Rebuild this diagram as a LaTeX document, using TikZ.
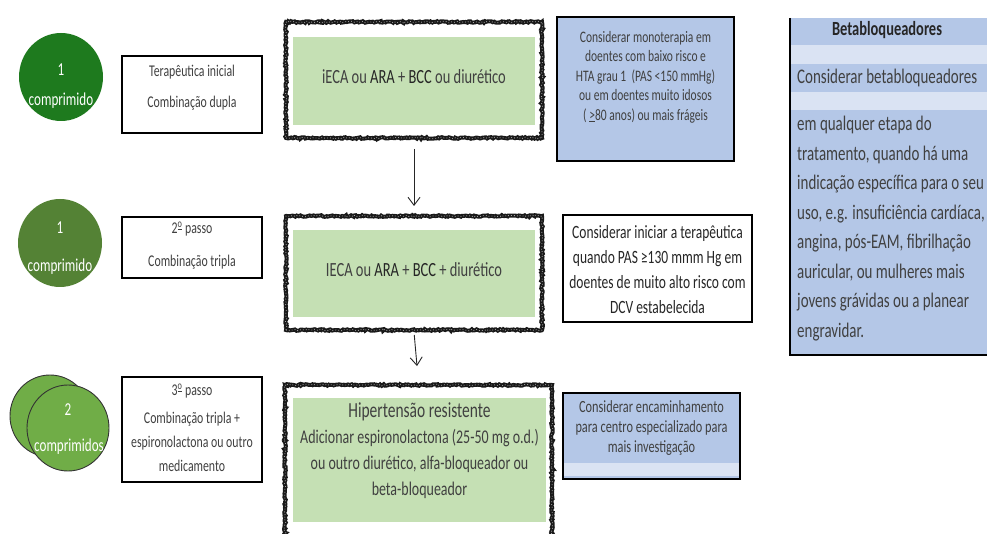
\documentclass[tikz,border=0pt]{standalone}
\usepackage{fontspec}
\setmainfont{Carlito}[FakeStretch=0.72]
\usetikzlibrary{arrows.meta,decorations.pathmorphing,shapes.geometric}
\definecolor{gA}{RGB}{30,122,30}
\definecolor{gB}{RGB}{84,130,53}
\definecolor{gC}{RGB}{112,173,71}
\definecolor{lgreen}{RGB}{197,224,180}
\definecolor{lblue}{RGB}{180,199,231}
\definecolor{pblue}{RGB}{218,227,243}
\definecolor{tgray}{RGB}{64,64,64}
\newcommand{\ordo}{\textsuperscript{\underline{o}}}
\tikzset{
  rough/.style={draw=black!90, line width=4pt, decorate,
    decoration={random steps,segment length=1.5pt,amplitude=0.8pt},
    postaction={draw=gray!70, line width=0.8pt, dash pattern=on 0.8pt off 2.2pt}},
  greenin/.style={fill=lgreen, draw=none, inner sep=0pt},
  leftbox/.style={draw=black, line width=2.2pt, fill=white, inner sep=0pt, minimum width=140pt},
  bluebox/.style={draw=black, line width=1.8pt, fill=lblue, inner sep=0pt},
  whitebox/.style={draw=black, line width=1.8pt, fill=white, inner sep=0pt},
  pill/.style={ellipse, inner sep=0pt, minimum width=84pt, minimum height=88pt},
  ctext/.style={text=white, font=\fontsize{18.2}{20}\selectfont, inner sep=0pt},
  ltext/.style={text=tgray, font=\fontsize{16.4}{18}\selectfont, inner sep=0pt, align=center},
  mtext/.style={text=tgray, font=\fontsize{20.1}{22}\selectfont, inner sep=0pt, align=center},
  arr/.style={draw=black!85, line width=0.9pt, -{Straight Barb[length=8pt,width=12pt,line width=0.9pt]}},
}
\begin{document}
\begin{tikzpicture}[x=1pt,y=-1pt]
\useasboundingbox (0,0) rectangle (987,534);
\clip (0,0) rectangle (987,534);

% ---- circles ----
\node[pill, fill=gA] (c1) at (61,77) {};
\node[ctext] (c1a) at (61,70) {1};
\node[ctext] (c1b) at (61,101) {comprimido};

\node[pill, fill=gB] (c2) at (60,243) {};
\node[ctext] (c2a) at (60,228) {1};
\node[ctext] (c2b) at (60,267) {comprimido};

\node[pill, fill=gC, draw=black!80, line width=0.9pt, minimum width=80pt, minimum height=82pt] (c3back) at (50,416) {};
\node[pill, fill=gC, draw=black!80, line width=0.9pt, minimum width=82pt, minimum height=86pt] (c3) at (68,428) {};
\node[ctext] (c3a) at (68,410) {2};
\node[ctext] (c3b) at (69,447) {comprimidos};

% ---- left boxes ----
\node[leftbox, minimum height=77pt] (b1) at (192,94.5) {};
\node[ltext] (b1a) at (192,72) {Terapêutica inicial};
\node[ltext] (b1b) at (192,103) {Combinação dupla};

\node[leftbox, minimum height=61pt] (b2) at (192,247.5) {};
\node[ltext] (b2a) at (192,229) {2\ordo{} passo};
\node[ltext] (b2b) at (192,262) {Combinação tripla};

\node[leftbox, minimum height=105pt] (b3) at (192,429.5) {};
\node[ltext] (b3a) at (192,391) {3\ordo{} passo};
\node[ltext, font=\fontsize{16.4}{24}\selectfont] (b3b) at (192,442) {Combinação tripla +\\espironolactona ou outro\\medicamento};

% ---- main boxes ----
\node[rough, minimum width=256pt, minimum height=116pt] (m1) at (414,80) {};
\node[greenin, minimum width=242pt, minimum height=88pt] (g1) at (414,81) {};
\node[mtext] (g1t) at (414,77) {iECA ou \textcolor{black!85}{ARA} + \textcolor{black!85}{BCC} ou diurético};

\node[rough, minimum width=256pt, minimum height=114pt] (m2) at (414,273) {};
\node[greenin, minimum width=242pt, minimum height=87pt] (g2) at (414,273.5) {};
\node[mtext] (g2t) at (414,270) {IECA ou \textcolor{black!85}{ARA} + \textcolor{black!85}{BCC} + diurético};

\node[rough, minimum width=267pt, minimum height=170pt] (m3) at (418.5,470) {};
\node[greenin, minimum width=253pt, minimum height=124pt] (g3) at (419.5,460) {};
\node[mtext, font=\fontsize{19.4}{26}\selectfont] (g3t) at (419.5,451)
  {{\fontsize{21.5}{26}\selectfont Hipertensão resistente}\\Adicionar espironolactona (25-50 mg o.d.)\\ou outro diurético, alfa-bloqueador ou\\beta-bloqueador};

\draw[arr, shorten <=9pt, shorten >=8pt] (m1.south) -- (m2.north);
\draw[arr, shorten <=3pt, shorten >=17pt] (m2.south) -- (m3.north);

% ---- right-hand notes ----
\node[bluebox, minimum width=177pt, minimum height=144pt] (n1) at (645.5,89) {};
\node[text=tgray, font=\fontsize{16}{19.5}\selectfont, align=center, inner sep=0pt] (n1t) at (645.5,77)
  {Considerar monoterapia em\\doentes com baixo risco e\\HTA grau 1~ (PAS <150 mmHg)\\ou em doentes muito idosos\\(\,\underline{>}80 anos) ou mais frágeis};

\node[whitebox, minimum width=189pt, minimum height=107pt] (n2) at (657.5,268.5) {};
\node[text=black!85, font=\fontsize{18.75}{25}\selectfont, align=center, inner sep=0pt] (n2t) at (657.5,269.5)
  {Considerar iniciar a terapêutica\\quando PAS ≥130 mmm Hg em\\doentes de muito alto risco com\\DCV estabelecida};

\node[bluebox, minimum width=177pt, minimum height=86pt] (n3) at (651.5,436) {};
\fill[pblue] (564,463) rectangle (739,476);
\node[text=tgray, font=\fontsize{17.1}{20}\selectfont, align=center, inner sep=0pt] (n3t) at (651.5,428)
  {Considerar encaminhamento\\para centro especializado para\\mais investigação};

% ---- betabloqueadores panel ----
\fill[lblue] (790,18) rectangle (990,355);
\fill[pblue] (790,45) rectangle (990,64);
\fill[pblue] (790,92) rectangle (990,110);
\draw[black, line width=2.2pt] (790,18) -- (790,355) -- (990,355);
\node[font=\fontsize{20.1}{22}\selectfont\bfseries, text=black!85, inner sep=0pt] (p1) at (887,30) {Betabloqueadores};
\node[anchor=west, font=\fontsize{20.8}{22}\selectfont, text=tgray, inner sep=0pt] (p2) at (797,78) {Considerar betabloqueadores};
\node[anchor=north west, align=left, font=\fontsize{20.8}{29.5}\selectfont, text=tgray, inner sep=0pt] (p3) at (797,116)
  {em qualquer etapa do\\tratamento, quando há uma\\indicação específica para o seu\\uso, e.g. insuficiência cardíaca,\\angina, pós-EAM, fibrilhação\\auricular, ou mulheres mais\\jovens grávidas ou a planear\\engravidar.};
\end{tikzpicture}
\end{document}
